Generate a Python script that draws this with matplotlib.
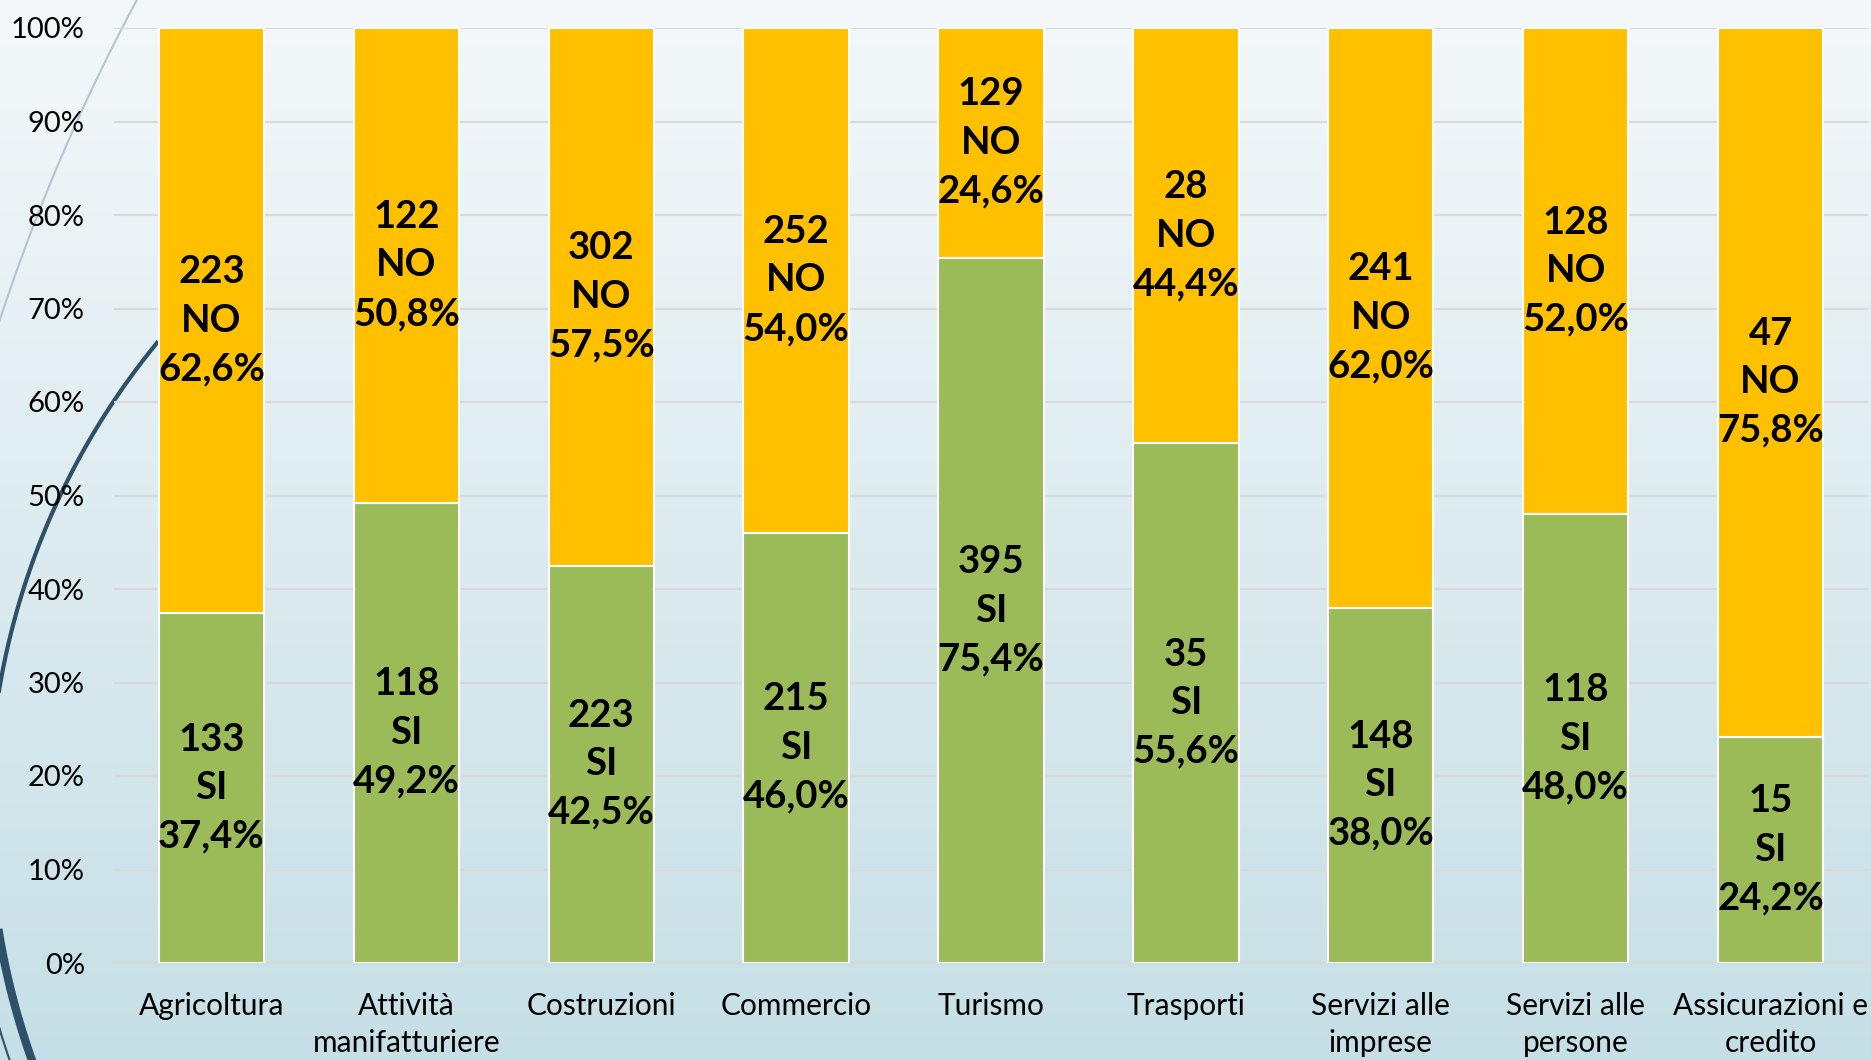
import numpy as np
import matplotlib
matplotlib.use('Agg')
import matplotlib.pyplot as plt

# dati
categorie = ['Agricoltura', 'Attività\nmanifatturiere', 'Costruzioni', 'Commercio',
             'Turismo', 'Trasporti', 'Servizi alle\nimprese', 'Servizi alle\npersone',
             'Assicurazioni e\ncredito']
si_n = [133, 118, 223, 215, 395, 35, 148, 118, 15]
no_n = [223, 122, 302, 252, 129, 28, 241, 128, 47]
si_pct = [37.4, 49.2, 42.5, 46.0, 75.4, 55.6, 38.0, 48.0, 24.2]
no_pct = [62.6, 50.8, 57.5, 54.0, 24.6, 44.4, 62.0, 52.0, 75.8]
y_ticks = [0, 10, 20, 30, 40, 50, 60, 70, 80, 90, 100]

W, H = 1871, 1060
plt.rcParams['font.family'] = ['Lato', 'DejaVu Sans']
fig = plt.figure(figsize=(W / 100, H / 100), dpi=100)

# sfondo sfumato + curve decorative della slide
bg = fig.add_axes([0, 0, 1, 1], zorder=-10)
top = np.array([0xf4, 0xf8, 0xfa]) / 255
bot = np.array([0xc6, 0xdf, 0xe6]) / 255
t = np.linspace(0, 1, 256)[:, None]
grad = (top * (1 - t) + bot * t)[:, None, :]
bg.imshow(grad, extent=[0, W, H, 0], aspect='auto', interpolation='bicubic')
ang = np.radians(np.linspace(-150.5, -163, 100))
bg.plot(1900 + 2000 * np.cos(ang), 944 + 2000 * np.sin(ang), color='#b5c6cf', lw=1.5)
ang = np.radians(np.linspace(-140.6, -180, 100))
bg.plot(728 + 739 * np.cos(ang), 812 + 739 * np.sin(ang), color='#2e5068', lw=3)
ang = np.radians(np.linspace(-180, -210, 100))
bg.plot(728 + 739 * np.cos(ang), 812 + 739 * np.sin(ang), color='#2e5068', lw=6)
bg.plot(728 + 760 * np.cos(ang), 812 + 760 * np.sin(ang), color='#2e5068', lw=1.5)
bg.set_xlim(0, W)
bg.set_ylim(H, 0)
bg.axis('off')

ax = fig.add_axes([114 / W, 1 - 963 / H, (1868 - 114) / W, (963 - 28) / H])
ax.patch.set_alpha(0)

x = np.arange(len(categorie))
larg = 0.54
ax.bar(x, si_pct, width=larg, color='#9bbb59', edgecolor='white', linewidth=1.5, zorder=3)
ax.bar(x, no_pct, width=larg, bottom=si_pct, color='#ffc000', edgecolor='white',
       linewidth=1.5, zorder=3)

for i in range(len(categorie)):
    ax.text(x[i], si_pct[i] / 2, f"{si_n[i]}\nSI\n{si_pct[i]:.1f}%".replace('.', ','),
            ha='center', va='center', fontsize=27.5, fontweight='bold', linespacing=1.52, zorder=4)
    ax.text(x[i], si_pct[i] + no_pct[i] / 2, f"{no_n[i]}\nNO\n{no_pct[i]:.1f}%".replace('.', ','),
            ha='center', va='center', fontsize=27.5, fontweight='bold', linespacing=1.52, zorder=4)

ax.set_xlim(-0.5, len(categorie) - 0.5)
ax.set_ylim(0, 100)
ax.set_yticks(y_ticks)
ax.set_yticklabels([f"{v}%" for v in y_ticks])
ax.set_xticks(x)
ax.set_xticklabels(categorie, linespacing=1.38)
ax.tick_params(axis='y', length=0, pad=21, labelsize=21)
ax.tick_params(axis='x', length=0, pad=21, labelsize=21.5)
ax.grid(axis='y', color='#d9d9d9', linewidth=1.5, zorder=0)
for s in ['top', 'right', 'left']:
    ax.spines[s].set_visible(False)
ax.spines['bottom'].set_color('#d9d9d9')
ax.spines['bottom'].set_linewidth(1.5)

fig.savefig('out.png', dpi=100)
